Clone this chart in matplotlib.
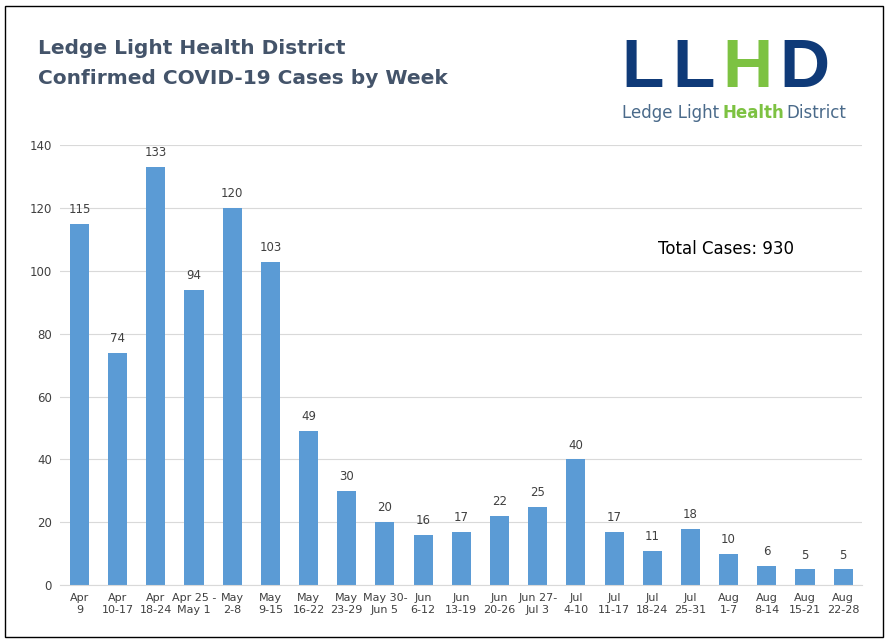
import matplotlib.pyplot as plt
from matplotlib.patches import Rectangle

weeks = ['Apr\n9', 'Apr\n10-17', 'Apr\n18-24', 'Apr 25 -\nMay 1', 'May\n2-8', 'May\n9-15',
         'May\n16-22', 'May\n23-29', 'May 30-\nJun 5', 'Jun\n6-12', 'Jun\n13-19', 'Jun\n20-26',
         'Jun 27-\nJul 3', 'Jul\n4-10', 'Jul\n11-17', 'Jul\n18-24', 'Jul\n25-31', 'Aug\n1-7',
         'Aug\n8-14', 'Aug\n15-21', 'Aug\n22-28']
cases = [115, 74, 133, 94, 120, 103, 49, 30, 20, 16, 17, 22, 25, 40, 17, 11, 18, 10, 6, 5, 5]

fig = plt.figure(figsize=(8.88, 6.43), dpi=100)
ax = fig.add_axes([0.068, 0.090, 0.903, 0.684])

x = range(len(cases))
bars = ax.bar(x, cases, width=0.5, color='#5b9bd5', zorder=2)
for i, v in enumerate(cases):
    ax.text(i, v + 2.5, str(v), ha='center', va='bottom', fontsize=8.5, color='#404040')

ax.set_ylim(0, 140)
ax.set_xlim(-0.5, len(cases) - 0.5)
ax.set_yticks(range(0, 141, 20))
ax.set_xticks(list(x))
ax.set_xticklabels(weeks, fontsize=8, color='#404040')
ax.tick_params(axis='y', labelsize=8.5, labelcolor='#404040', length=0, pad=6)
ax.tick_params(axis='x', length=0, pad=6)
ax.grid(axis='y', color='#d9d9d9', linewidth=0.8, zorder=0)
for s in ['top', 'right', 'left']:
    ax.spines[s].set_visible(False)
ax.spines['bottom'].set_color('#d9d9d9')

ax.text(15.15, 107, 'Total Cases: 930', fontsize=12, color='black', ha='left', va='center',
        bbox=dict(facecolor='white', edgecolor='none', pad=8))

fig.text(0.043, 0.925, 'Ledge Light Health District', fontsize=14.5, fontweight='bold',
         color='#44546a', va='center')
fig.text(0.043, 0.878, 'Confirmed COVID-19 Cases by Week', fontsize=14.5, fontweight='bold',
         color='#44546a', va='center')

# logo
logo = [('L', 0.700, '#0f3a78'), ('L', 0.757, '#0f3a78'), ('H', 0.813, '#7dc242'),
        ('D', 0.878, '#0f3a78')]
for ch, xp, c in logo:
    fig.text(xp, 0.893, ch, fontsize=50, fontweight='bold', color=c, va='center',
             family='Liberation Sans')
fig.text(0.700, 0.825, 'Ledge Light', fontsize=12, color='#4a6a8a', va='center')
fig.text(0.814, 0.825, 'Health', fontsize=12, color='#7dc242', fontweight='bold', va='center')
fig.text(0.885, 0.825, 'District', fontsize=12, color='#4a6a8a', va='center')

fig.patches.append(Rectangle((0.006, 0.01), 0.988, 0.98, transform=fig.transFigure,
                             fill=False, edgecolor='black', linewidth=1))

fig.savefig('out.png', dpi=100)
